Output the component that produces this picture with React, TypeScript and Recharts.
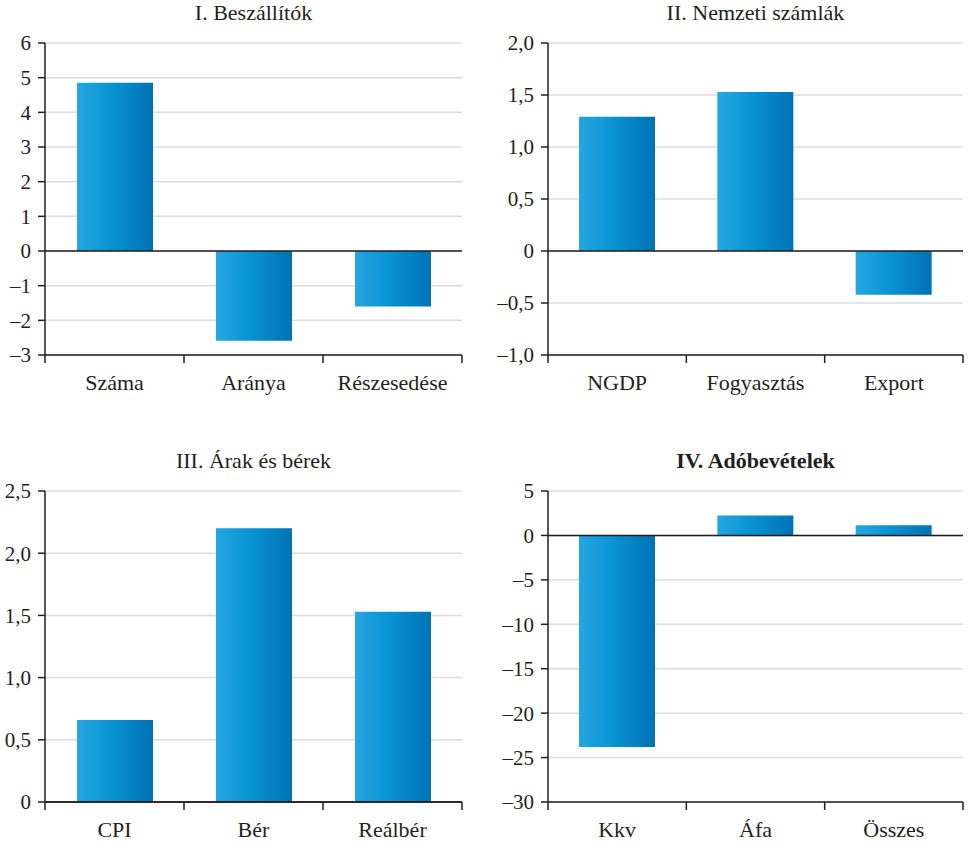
import { BarChart, Bar, XAxis, YAxis, CartesianGrid, ReferenceLine } from 'recharts';

const catsSuppliers = ['Száma', 'Aránya', 'Részesedése'];
const valsSuppliers = [4.85, -2.59, -1.6];
const ticksSuppliers = [-3, -2, -1, 0, 1, 2, 3, 4, 5, 6];

const catsAccounts = ['NGDP', 'Fogyasztás', 'Export'];
const valsAccounts = [1.29, 1.53, -0.42];
const ticksAccounts = [-1, -0.5, 0, 0.5, 1, 1.5, 2];

const catsPrices = ['CPI', 'Bér', 'Reálbér'];
const valsPrices = [0.66, 2.2, 1.53];
const ticksPrices = [0, 0.5, 1, 1.5, 2, 2.5];

const catsTax = ['Kkv', 'Áfa', 'Összes'];
const valsTax = [-23.8, 2.25, 1.15];
const ticksTax = [-30, -25, -20, -15, -10, -5, 0, 5];

const FONT = '"Liberation Serif", serif';
const INK = '#231f20';

const fmtInt = (v: number) => (v < 0 ? `\u2013${Math.abs(v)}` : `${v}`);
const fmtDec = (v: number) => {
  if (v === 0) return '0';
  const s = Math.abs(v).toFixed(1).replace('.', ',');
  return v < 0 ? `\u2013${s}` : s;
};

// category label plus tick marks on the band edges
function EdgeTick(props: any) {
  const { x, y, payload, index, band, count } = props;
  return (
    <g>
      <line x1={x - band / 2} y1={y} x2={x - band / 2} y2={y + 8} stroke={INK} strokeWidth={1.5} />
      {index === count - 1 && (
        <line x1={x + band / 2} y1={y} x2={x + band / 2} y2={y + 8} stroke={INK} strokeWidth={1.5} />
      )}
      <text x={x} y={y + 19} dy="0.71em" textAnchor="middle" fill={INK} style={{ fontFamily: FONT, fontSize: 22 }}>
        {payload.value}
      </text>
    </g>
  );
}

function ValueTick(props: any) {
  const { x, y, payload, fmt } = props;
  return (
    <text x={x} y={y} dy="0.355em" textAnchor="end" fill={INK} style={{ fontFamily: FONT, fontSize: 21 }}>
      {fmt(payload.value)}
    </text>
  );
}

type PanelProps = {
  id: string;
  title: string;
  bold?: boolean;
  cats: string[];
  vals: number[];
  ticks: number[];
  fmt: (v: number) => string;
  left: number;
  top: number;
  width: number;
  height: number;
  yAxisWidth: number;
  margin: { top: number; right: number; bottom: number; left: number };
};

function Panel(p: PanelProps) {
  const data = p.cats.map((c, i) => ({ name: c, value: p.vals[i] }));
  const plotLeft = p.margin.left + p.yAxisWidth;
  const plotRight = p.width - p.margin.right;
  const band = (plotRight - plotLeft) / p.cats.length;
  return (
    <div style={{ position: 'absolute', left: p.left, top: p.top, width: p.width, height: p.height, fontFamily: FONT }}>
      <div
        style={{
          position: 'absolute',
          left: plotLeft,
          width: plotRight - plotLeft,
          top: p.margin.top - 43,
          textAlign: 'center',
          fontFamily: FONT,
          fontSize: 22,
          fontWeight: p.bold ? 'bold' : 'normal',
          color: INK,
          lineHeight: '26px',
        }}
      >
        {p.title}
      </div>
      <BarChart width={p.width} height={p.height} data={data} margin={p.margin} style={{ fontFamily: FONT }}>
        <defs>
          <linearGradient id={`grad-${p.id}`} x1="0" y1="0" x2="1" y2="0">
            <stop offset="0%" stopColor="#25a7e1" />
            <stop offset="45%" stopColor="#0993d2" />
            <stop offset="100%" stopColor="#0072b5" />
          </linearGradient>
        </defs>
        <CartesianGrid vertical={false} stroke="#dcdcdc" strokeWidth={1.5} />
        <XAxis
          dataKey="name"
          height={45}
          axisLine={{ stroke: INK, strokeWidth: 1.5 }}
          tickLine={false}
          tickSize={0}
          tickMargin={0}
          interval={0}
          tick={<EdgeTick band={band} count={p.cats.length} />}
        />
        <YAxis
          width={p.yAxisWidth}
          domain={[p.ticks[0], p.ticks[p.ticks.length - 1]]}
          ticks={p.ticks}
          interval={0}
          tickSize={7}
          tickMargin={7}
          tick={<ValueTick fmt={p.fmt} />}
          axisLine={{ stroke: INK, strokeWidth: 1.5 }}
          tickLine={{ stroke: INK, strokeWidth: 1.5 }}
        />
        <ReferenceLine y={0} stroke={INK} strokeWidth={1.5} />
        <Bar dataKey="value" fill={`url(#grad-${p.id})`} barSize={76} isAnimationActive={false} />
      </BarChart>
    </div>
  );
}

export default function App() {
  return (
    <div style={{ position: 'absolute', left: 0, top: 0, width: 972, height: 843, background: '#fff', fontFamily: FONT }}>
      <Panel
        id="a"
        title="I. Beszállítók"
        cats={catsSuppliers}
        vals={valsSuppliers}
        ticks={ticksSuppliers}
        fmt={fmtInt}
        left={0}
        top={0}
        width={480}
        height={400}
        yAxisWidth={45}
        margin={{ top: 43, right: 18, bottom: 0, left: 0 }}
      />
      <Panel
        id="b"
        title="II. Nemzeti számlák"
        cats={catsAccounts}
        vals={valsAccounts}
        ticks={ticksAccounts}
        fmt={fmtDec}
        left={480}
        top={0}
        width={492}
        height={400}
        yAxisWidth={68}
        margin={{ top: 43, right: 9, bottom: 0, left: 0 }}
      />
      <Panel
        id="c"
        title="III. Árak és bérek"
        cats={catsPrices}
        vals={valsPrices}
        ticks={ticksPrices}
        fmt={fmtDec}
        left={0}
        top={440}
        width={480}
        height={403}
        yAxisWidth={45}
        margin={{ top: 51, right: 18, bottom: -4, left: 0 }}
      />
      <Panel
        id="d"
        title="IV. Adóbevételek"
        bold
        cats={catsTax}
        vals={valsTax}
        ticks={ticksTax}
        fmt={fmtInt}
        left={480}
        top={440}
        width={492}
        height={403}
        yAxisWidth={68}
        margin={{ top: 51, right: 9, bottom: -4, left: 0 }}
      />
    </div>
  );
}
